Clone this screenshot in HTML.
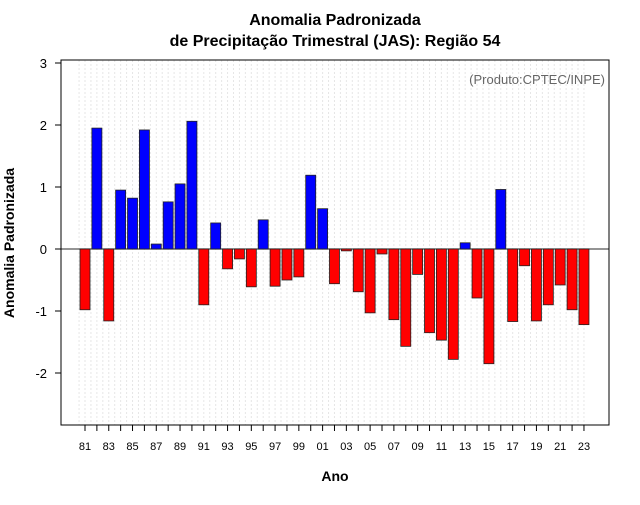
<!DOCTYPE html>
<html><head><meta charset="utf-8"><style>body{margin:0;background:#fff}svg{font-family:"Liberation Sans",sans-serif}</style></head>
<body>
<svg id="c" width="640" height="500"></svg>
<script>
const years=[81,82,83,84,85,86,87,88,89,90,91,92,93,94,95,96,97,98,99,0,1,2,3,4,5,6,7,8,9,10,11,12,13,14,15,16,17,18,19,20,21,22,23];
const values=[-0.98,1.95,-1.16,0.95,0.82,1.92,0.08,0.76,1.05,2.06,-0.9,0.42,-0.32,-0.16,-0.61,0.47,-0.6,-0.5,-0.45,1.19,0.65,-0.56,-0.03,-0.69,-1.03,-0.08,-1.14,-1.57,-0.41,-1.35,-1.47,-1.78,0.1,-0.79,-1.85,0.96,-1.17,-0.27,-1.16,-0.9,-0.58,-0.98,-1.22];
const yTicks=[-2,-1,0,1,2,3];
const NS="http://www.w3.org/2000/svg",svg=document.getElementById('c');
function mk(t,a,p){const e=document.createElementNS(NS,t);for(const k in a)e.setAttribute(k,a[k]);(p||svg).appendChild(e);return e;}
const L=61,R=609,T=60,B=425;
const y=v=>249-v*62;
const x=i=>85+i*11.88;
for(let i=0;i<years.length;i++){
  for(const xx of [x(i),x(i)-5.94]){
    const g=mk('line',{x1:xx,x2:xx,y1:T,y2:B,stroke:'#e6e6e6','stroke-dasharray':'2,2'});
    
    
  }
}
const z=mk('line',{x1:L,x2:R,y1:y(0),y2:y(0),stroke:'#555','stroke-width':1.2});


values.forEach((v,i)=>{
  const r=mk('rect',{x:x(i)-5,width:10,y:Math.min(y(v),y(0)),height:Math.abs(y(v)-y(0)),fill:v>=0?'#0000ff':'#ff0000',stroke:'#222','stroke-width':0.8});
  
  
  const tk=mk('line',{x1:x(i),x2:x(i),y1:B,y2:B+6,stroke:'#000'});
  
  
  if(i%2===0){
    const t=mk('text',{x:x(i),y:B+25,'text-anchor':'middle','font-size':11});
    t.textContent=String(years[i]).padStart(2,'0');
    
    
  }
});
yTicks.forEach(v=>{
  const tk=mk('line',{x1:L-6,x2:L,y1:y(v),y2:y(v),stroke:'#000'});
  
  
  const t=mk('text',{x:L-14,y:y(v)+5,'text-anchor':'end','font-size':13});
  t.textContent=v;
  
  
});
const box=mk('rect',{x:L,y:T,width:R-L,height:B-T,fill:'none',stroke:'#000'});


</script>
<svg width="640" height="500" style="position:absolute;left:0;top:0">
<text x="335" y="25" text-anchor="middle" font-weight="bold" font-size="16">Anomalia Padronizada</text>
<text x="335" y="46" text-anchor="middle" font-weight="bold" font-size="16">de Precipitação Trimestral (JAS): Região 54</text>
<text x="605" y="84" text-anchor="end" font-size="13" fill="#666">(Produto:CPTEC/INPE)</text>
<text x="335" y="481" text-anchor="middle" font-weight="bold" font-size="14">Ano</text>
<text transform="translate(14,243) rotate(-90)" text-anchor="middle" font-weight="bold" font-size="14">Anomalia Padronizada</text>
</svg>
</body></html>
